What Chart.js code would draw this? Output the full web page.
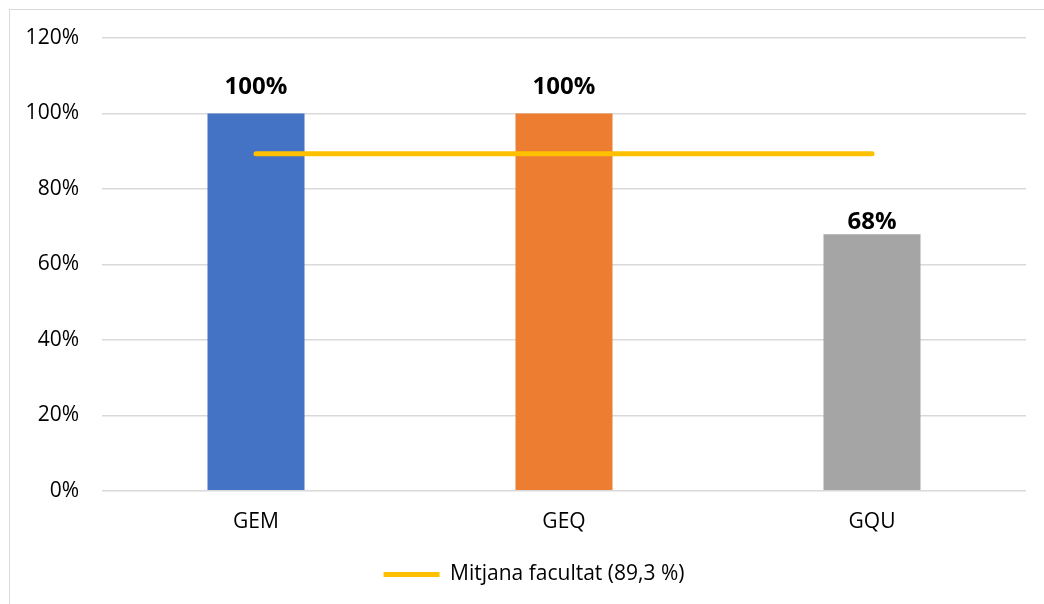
<!DOCTYPE html>
<html>
<head>
<meta charset="utf-8">
<script src="https://cdn.jsdelivr.net/npm/chart.js@4"></script>
<style>
  html, body { margin: 0; padding: 0; background: #fff; }
  body { width: 1044px; height: 604px; overflow: hidden; position: relative; }
  #frame { position: absolute; left: 9px; top: 9px; width: 1100px; height: 700px; border: 1.5px solid #D9D9D9; box-sizing: border-box; }
  #wrap { position: absolute; left: 0; top: 0; width: 1044px; height: 604px; }
</style>
</head>
<body>
<div id="frame"></div>
<div id="wrap"><canvas id="c" width="1044" height="604"></canvas></div>
<script>
const categories = ['GEM', 'GEQ', 'GQU'];
const values = [100, 100, 68];
const barColors = ['#4472C4', '#ED7D31', '#A5A5A5'];
const averageLabel = 'Mitjana facultat (89,3 %)';
const averageValue = 89.3;
const averageSeries = [averageValue, averageValue, averageValue];
const yTicks = [0, 20, 40, 60, 80, 100, 120];

const FONT = '"Open Sans", "Noto Sans", sans-serif';
const labelGap = [19, 19, 5];

const dataLabels = {
  id: 'dataLabels',
  afterDatasetsDraw(chart) {
    const meta = chart.getDatasetMeta(1);
    const ctx = chart.ctx;
    ctx.save();
    ctx.font = 'bold 24px ' + FONT;
    ctx.fillStyle = '#000';
    ctx.textAlign = 'center';
    ctx.textBaseline = 'alphabetic';
    meta.data.forEach((bar, i) => {
      ctx.fillText(values[i] + '%', bar.x, bar.y - labelGap[i]);
    });
    ctx.restore();
  }
};

const legendShift = {
  id: 'legendShift',
  afterLayout(chart) {
    if (chart.legend) chart.legend.left += 42;
  }
};

new Chart(document.getElementById('c'), {
  data: {
    labels: categories,
    datasets: [
      {
        type: 'line',
        label: averageLabel,
        data: averageSeries,
        borderColor: '#FFC000',
        backgroundColor: '#FFC000',
        borderWidth: 5,
        borderCapStyle: 'round',
        pointRadius: 0,
        order: 0
      },
      {
        type: 'bar',
        label: 'values',
        data: values,
        backgroundColor: barColors,
        barPercentage: 0.315,
        categoryPercentage: 1,
        order: 1
      }
    ]
  },
  options: {
    responsive: false,
    animation: false,
    layout: { padding: { left: 0, right: 18, top: 38, bottom: 9 } },
    plugins: {
      tooltip: { enabled: false },
      legend: {
        position: 'bottom',
        labels: {
          boxWidth: 56,
          boxHeight: 5,
          color: '#000',
          font: { family: FONT, size: 21 },
          padding: 10,
          generateLabels: (chart) => [{
            text: averageLabel,
            fillStyle: '#FFC000',
            strokeStyle: '#FFC000',
            lineWidth: 0,
            datasetIndex: 0,
            hidden: false
          }]
        }
      }
    },
    scales: {
      x: {
        afterFit: (s) => { s.height += 8; },
        grid: { display: false },
        border: { display: false },
        ticks: { color: '#000', font: { family: FONT, size: 21 }, padding: 11 }
      },
      y: {
        min: 0,
        max: 120,
        afterFit: (s) => { s.width = 102; },
        afterBuildTicks: (s) => { s.ticks = yTicks.map(v => ({ value: v })); },
        grid: { color: '#D9D9D9', lineWidth: 1.5, drawTicks: false },
        border: { display: false },
        ticks: {
          color: '#000',
          font: { family: FONT, size: 21 },
          padding: 23,
          callback: (v) => v + '%'
        }
      }
    }
  },
  plugins: [dataLabels, legendShift]
});
</script>
</body>
</html>
